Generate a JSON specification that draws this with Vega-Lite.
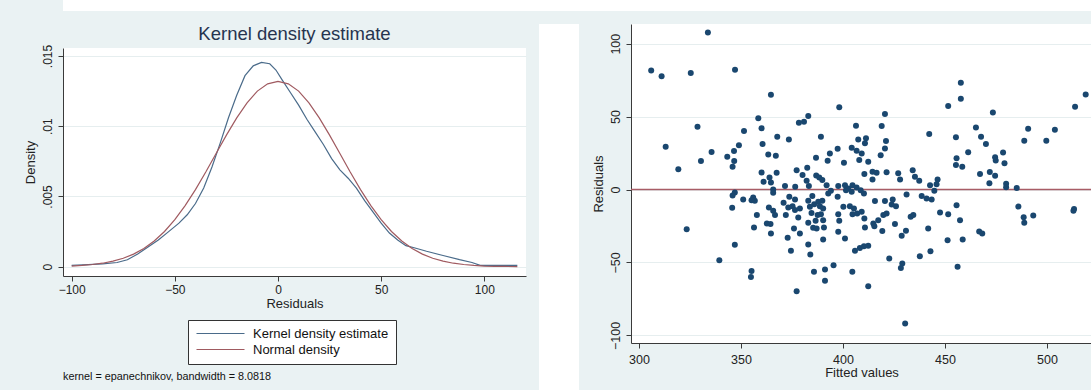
{
  "$schema": "https://vega.github.io/schema/vega-lite/v6.json",
  "background": "#eaf2f3",
  "padding": {"left": 24, "top": 0, "right": 0, "bottom": 0},
  "spacing": 13,
  "config": {
    "font": "Liberation Sans",
    "view": {"stroke": null, "fill": "white"},
    "axis": {
      "labelFont": "Liberation Sans", "titleFont": "Liberation Sans",
      "labelFontSize": 12, "titleFontSize": 13, "titleFontWeight": "normal",
      "labelColor": "#222222", "titleColor": "#222222",
      "domainColor": "#3a3a3a", "tickColor": "#3a3a3a", "tickSize": 5,
      "gridColor": "#e6eeef", "labelFlush": false, "labelOverlap": false
    }
  },
  "vconcat": [
    {
      "width": 1029, "height": 11,
      "view": {"fill": "white", "stroke": null},
      "data": {"values": []},
      "mark": {"type": "point"},
      "encoding": {}
    },
    {
      "spacing": 13,
      "hconcat": [
        {
          "spacing": 0,
          "resolve": {"scale": {"color": "independent"}, "legend": {"color": "independent"}},
          "vconcat": [
            {
              "width": 463, "height": 20,
              "view": {"fill": "#eaf2f3", "stroke": null},
              "data": {"values": [{"label": "Kernel density estimate"}]},
              "mark": {"type": "text", "fontSize": 18.5, "font": "Liberation Sans", "color": "#26344f"},
              "encoding": {"text": {"field": "label", "type": "nominal"}}
            },
            {
              "width": 463, "height": 228,
              "title": {"text": "kernel = epanechnikov, bandwidth = 8.0818", "orient": "bottom", "anchor": "start", "frame": "group", "fontSize": 10.8, "fontWeight": "normal", "color": "#111111", "offset": 6, "font": "Liberation Sans"},
              "data": {"values": [
                {"x": -100, "density": 0.0001, "series": "Kernel density estimate"},
                {"x": -92, "density": 0.00015, "series": "Kernel density estimate"},
                {"x": -85, "density": 0.0002, "series": "Kernel density estimate"},
                {"x": -78, "density": 0.0003, "series": "Kernel density estimate"},
                {"x": -73, "density": 0.0005, "series": "Kernel density estimate"},
                {"x": -68, "density": 0.0009, "series": "Kernel density estimate"},
                {"x": -63, "density": 0.0014, "series": "Kernel density estimate"},
                {"x": -58, "density": 0.0019, "series": "Kernel density estimate"},
                {"x": -53, "density": 0.0025, "series": "Kernel density estimate"},
                {"x": -48, "density": 0.0031, "series": "Kernel density estimate"},
                {"x": -44, "density": 0.0037, "series": "Kernel density estimate"},
                {"x": -40, "density": 0.0045, "series": "Kernel density estimate"},
                {"x": -36, "density": 0.0056, "series": "Kernel density estimate"},
                {"x": -32, "density": 0.0071, "series": "Kernel density estimate"},
                {"x": -28, "density": 0.0088, "series": "Kernel density estimate"},
                {"x": -24, "density": 0.0106, "series": "Kernel density estimate"},
                {"x": -20, "density": 0.0122, "series": "Kernel density estimate"},
                {"x": -16, "density": 0.0136, "series": "Kernel density estimate"},
                {"x": -12, "density": 0.0143, "series": "Kernel density estimate"},
                {"x": -8, "density": 0.01455, "series": "Kernel density estimate"},
                {"x": -4, "density": 0.01445, "series": "Kernel density estimate"},
                {"x": -1, "density": 0.014, "series": "Kernel density estimate"},
                {"x": 2, "density": 0.0133, "series": "Kernel density estimate"},
                {"x": 6, "density": 0.0124, "series": "Kernel density estimate"},
                {"x": 10, "density": 0.0115, "series": "Kernel density estimate"},
                {"x": 14, "density": 0.0105, "series": "Kernel density estimate"},
                {"x": 18, "density": 0.0096, "series": "Kernel density estimate"},
                {"x": 22, "density": 0.0087, "series": "Kernel density estimate"},
                {"x": 26, "density": 0.0077, "series": "Kernel density estimate"},
                {"x": 30, "density": 0.0069, "series": "Kernel density estimate"},
                {"x": 34, "density": 0.0063, "series": "Kernel density estimate"},
                {"x": 38, "density": 0.0056, "series": "Kernel density estimate"},
                {"x": 42, "density": 0.0047, "series": "Kernel density estimate"},
                {"x": 46, "density": 0.0039, "series": "Kernel density estimate"},
                {"x": 50, "density": 0.0031, "series": "Kernel density estimate"},
                {"x": 54, "density": 0.0024, "series": "Kernel density estimate"},
                {"x": 58, "density": 0.0019, "series": "Kernel density estimate"},
                {"x": 62, "density": 0.0015, "series": "Kernel density estimate"},
                {"x": 66, "density": 0.00135, "series": "Kernel density estimate"},
                {"x": 72, "density": 0.0011, "series": "Kernel density estimate"},
                {"x": 80, "density": 0.0008, "series": "Kernel density estimate"},
                {"x": 88, "density": 0.0005, "series": "Kernel density estimate"},
                {"x": 94, "density": 0.0003, "series": "Kernel density estimate"},
                {"x": 98, "density": 0.0001, "series": "Kernel density estimate"},
                {"x": 105, "density": 0.0001, "series": "Kernel density estimate"},
                {"x": 116, "density": 0.0001, "series": "Kernel density estimate"},
                {"x": -100, "density": 0.00005, "series": "Normal density"},
                {"x": -95, "density": 0.00009, "series": "Normal density"},
                {"x": -90, "density": 0.00016, "series": "Normal density"},
                {"x": -85, "density": 0.00025, "series": "Normal density"},
                {"x": -80, "density": 0.0004, "series": "Normal density"},
                {"x": -75, "density": 0.0006, "series": "Normal density"},
                {"x": -70, "density": 0.0009, "series": "Normal density"},
                {"x": -65, "density": 0.0013, "series": "Normal density"},
                {"x": -60, "density": 0.00183, "series": "Normal density"},
                {"x": -55, "density": 0.00251, "series": "Normal density"},
                {"x": -50, "density": 0.00335, "series": "Normal density"},
                {"x": -45, "density": 0.00435, "series": "Normal density"},
                {"x": -40, "density": 0.00549, "series": "Normal density"},
                {"x": -35, "density": 0.00674, "series": "Normal density"},
                {"x": -30, "density": 0.00806, "series": "Normal density"},
                {"x": -25, "density": 0.00937, "series": "Normal density"},
                {"x": -20, "density": 0.0106, "series": "Normal density"},
                {"x": -15, "density": 0.01167, "series": "Normal density"},
                {"x": -10, "density": 0.0125, "series": "Normal density"},
                {"x": -5, "density": 0.01302, "series": "Normal density"},
                {"x": 0, "density": 0.0132, "series": "Normal density"},
                {"x": 5, "density": 0.01302, "series": "Normal density"},
                {"x": 10, "density": 0.0125, "series": "Normal density"},
                {"x": 15, "density": 0.01167, "series": "Normal density"},
                {"x": 20, "density": 0.0106, "series": "Normal density"},
                {"x": 25, "density": 0.00937, "series": "Normal density"},
                {"x": 30, "density": 0.00806, "series": "Normal density"},
                {"x": 35, "density": 0.00674, "series": "Normal density"},
                {"x": 40, "density": 0.00549, "series": "Normal density"},
                {"x": 45, "density": 0.00435, "series": "Normal density"},
                {"x": 50, "density": 0.00335, "series": "Normal density"},
                {"x": 55, "density": 0.00251, "series": "Normal density"},
                {"x": 60, "density": 0.00183, "series": "Normal density"},
                {"x": 65, "density": 0.0013, "series": "Normal density"},
                {"x": 70, "density": 0.0009, "series": "Normal density"},
                {"x": 75, "density": 0.0006, "series": "Normal density"},
                {"x": 80, "density": 0.0004, "series": "Normal density"},
                {"x": 85, "density": 0.00025, "series": "Normal density"},
                {"x": 90, "density": 0.00016, "series": "Normal density"},
                {"x": 95, "density": 0.00009, "series": "Normal density"},
                {"x": 100, "density": 0.00005, "series": "Normal density"},
                {"x": 105, "density": 0.00003, "series": "Normal density"},
                {"x": 110, "density": 0.00002, "series": "Normal density"},
                {"x": 116, "density": 0.00001, "series": "Normal density"}
              ]},
              "mark": {"type": "line", "strokeWidth": 1.2},
              "encoding": {
                "x": {"field": "x", "type": "quantitative",
                      "scale": {"domain": [-104.2, 120.2], "nice": false, "zero": false},
                      "axis": {"title": "Residuals", "values": [-100, -50, 0, 50, 100], "grid": false, "labelPadding": 3, "titlePadding": 2}},
                "y": {"field": "density", "type": "quantitative",
                      "scale": {"domain": [-0.00066, 0.01557], "nice": false, "zero": false},
                      "axis": {"title": "Density", "values": [0, 0.005, 0.01, 0.015],
                               "labelExpr": "datum.value == 0 ? '0' : substring(format(datum.value, '.3~f'), 1)",
                               "labelAngle": -90, "labelAlign": "center", "labelBaseline": "bottom",
                               "labelPadding": 4, "titlePadding": 4, "grid": true}},
                "color": {"field": "series", "type": "nominal",
                          "scale": {"domain": ["Kernel density estimate", "Normal density"], "range": ["#4a6b8a", "#a05a60"]},
                          "legend": {"orient": "none", "legendX": 125, "legendY": 272, "direction": "vertical", "title": null,
                                     "padding": 7, "strokeColor": "#333333", "fillColor": "white",
                                     "labelFontSize": 13, "labelFont": "Liberation Sans", "labelColor": "#111111",
                                     "symbolType": "M-1,0H8.6", "symbolSize": 100, "symbolStrokeWidth": 1.2,
                                     "labelOffset": 45, "rowPadding": 2}}
              }
            }
          ]
        },
        {
          "width": 40, "height": 366,
          "view": {"fill": "white", "stroke": null},
          "data": {"values": []},
          "mark": {"type": "point"},
          "encoding": {}
        },
        {
          "width": 461, "height": 319,
          "data": {"values": [
            {"fitted": 306.0, "resid": 81.7}, {"fitted": 311.1, "resid": 77.6}, {"fitted": 313.1, "resid": 29.3},
            {"fitted": 319.3, "resid": 14.0}, {"fitted": 323.4, "resid": -27.2}, {"fitted": 325.4, "resid": 79.9},
            {"fitted": 333.8, "resid": 107.6}, {"fitted": 347.1, "resid": 82.2}, {"fitted": 364.7, "resid": 65.0},
            {"fitted": 457.8, "resid": 73.2}, {"fitted": 457.8, "resid": 62.2}, {"fitted": 430.5, "resid": -91.8},
            {"fitted": 470.1, "resid": 31.2}, {"fitted": 471.8, "resid": 4.3}, {"fitted": 472.0, "resid": 12.1},
            {"fitted": 473.5, "resid": 52.9}, {"fitted": 474.6, "resid": 9.4}, {"fitted": 474.6, "resid": 22.2},
            {"fitted": 474.9, "resid": 19.9}, {"fitted": 478.5, "resid": 25.4}, {"fitted": 479.2, "resid": 18.1},
            {"fitted": 480.0, "resid": 3.9}, {"fitted": 480.0, "resid": 1.6}, {"fitted": 485.2, "resid": 1.1},
            {"fitted": 486.0, "resid": -11.7}, {"fitted": 488.6, "resid": -19.0}, {"fitted": 488.9, "resid": -22.7},
            {"fitted": 493.3, "resid": -17.8}, {"fitted": 488.9, "resid": 33.4}, {"fitted": 490.8, "resid": 41.6},
            {"fitted": 499.7, "resid": 33.4}, {"fitted": 503.9, "resid": 41.0}, {"fitted": 513.3, "resid": -13.3},
            {"fitted": 513.0, "resid": -14.6}, {"fitted": 513.8, "resid": 56.8}, {"fitted": 519.0, "resid": 65.2},
            {"fitted": 328.7, "resid": 43.1}, {"fitted": 330.4, "resid": 19.5}, {"fitted": 335.6, "resid": 25.7},
            {"fitted": 358.5, "resid": 48.8}, {"fitted": 360.1, "resid": 42.0}, {"fitted": 351.5, "resid": 40.1},
            {"fitted": 349.0, "resid": 30.3}, {"fitted": 346.6, "resid": 26.4}, {"fitted": 343.3, "resid": 22.5},
            {"fitted": 346.7, "resid": 19.5}, {"fitted": 345.9, "resid": 15.6}, {"fitted": 360.6, "resid": 31.2},
            {"fitted": 363.4, "resid": 24.1}, {"fitted": 367.1, "resid": 23.2}, {"fitted": 367.8, "resid": 36.2},
            {"fitted": 373.5, "resid": 34.4}, {"fitted": 378.4, "resid": 45.8}, {"fitted": 380.9, "resid": 46.5},
            {"fitted": 383.0, "resid": 50.4}, {"fitted": 389.2, "resid": 36.2}, {"fitted": 398.2, "resid": 56.4},
            {"fitted": 397.4, "resid": 28.0}, {"fitted": 393.6, "resid": 24.8}, {"fitted": 392.5, "resid": 19.8},
            {"fitted": 386.8, "resid": 21.8}, {"fitted": 360.1, "resid": 11.7}, {"fitted": 361.1, "resid": 5.3},
            {"fitted": 364.0, "resid": 8.3}, {"fitted": 364.7, "resid": 4.9}, {"fitted": 367.5, "resid": 11.5},
            {"fitted": 377.3, "resid": 13.3}, {"fitted": 382.5, "resid": 15.0}, {"fitted": 380.2, "resid": 9.9},
            {"fitted": 382.2, "resid": 6.0}, {"fitted": 383.3, "resid": 2.4}, {"fitted": 386.9, "resid": 9.7},
            {"fitted": 388.4, "resid": 8.3}, {"fitted": 389.9, "resid": 6.5}, {"fitted": 371.6, "resid": 2.4},
            {"fitted": 376.6, "resid": 1.9}, {"fitted": 365.8, "resid": 0.1}, {"fitted": 365.8, "resid": -2.2},
            {"fitted": 347.0, "resid": -2.0}, {"fitted": 345.9, "resid": -4.0}, {"fitted": 351.1, "resid": -6.8},
            {"fitted": 356.0, "resid": -5.4}, {"fitted": 356.8, "resid": -7.7}, {"fitted": 355.2, "resid": -7.3},
            {"fitted": 345.7, "resid": -12.5}, {"fitted": 357.8, "resid": -17.5}, {"fitted": 356.4, "resid": -26.0},
            {"fitted": 347.0, "resid": -37.9}, {"fitted": 339.4, "resid": -48.4}, {"fitted": 355.2, "resid": -55.8},
            {"fitted": 354.9, "resid": -59.9}, {"fitted": 363.7, "resid": -12.3}, {"fitted": 365.8, "resid": -14.6},
            {"fitted": 366.7, "resid": -17.5}, {"fitted": 362.7, "resid": -23.3}, {"fitted": 364.5, "resid": -23.7},
            {"fitted": 364.7, "resid": -30.1}, {"fitted": 373.7, "resid": -5.0}, {"fitted": 370.9, "resid": -9.1},
            {"fitted": 373.2, "resid": -12.3}, {"fitted": 375.3, "resid": -11.4}, {"fitted": 376.5, "resid": -14.1},
            {"fitted": 378.9, "resid": -13.0}, {"fitted": 372.0, "resid": -17.5}, {"fitted": 378.1, "resid": -19.2},
            {"fitted": 376.0, "resid": -26.7}, {"fitted": 378.9, "resid": -30.1}, {"fitted": 372.9, "resid": -33.1},
            {"fitted": 374.5, "resid": -42.0}, {"fitted": 377.3, "resid": -69.7}, {"fitted": 383.0, "resid": -7.7},
            {"fitted": 385.0, "resid": -4.5}, {"fitted": 385.9, "resid": -10.0}, {"fitted": 383.8, "resid": -11.8},
            {"fitted": 384.6, "resid": -16.0}, {"fitted": 387.9, "resid": -8.4}, {"fitted": 388.7, "resid": -11.4},
            {"fitted": 389.9, "resid": -7.7}, {"fitted": 390.3, "resid": -13.0}, {"fitted": 389.2, "resid": -16.9},
            {"fitted": 387.6, "resid": -17.5}, {"fitted": 383.0, "resid": -22.8}, {"fitted": 386.6, "resid": -21.4},
            {"fitted": 385.4, "resid": -26.2}, {"fitted": 387.1, "resid": -26.7}, {"fitted": 390.3, "resid": -21.0},
            {"fitted": 390.7, "resid": -26.0}, {"fitted": 390.3, "resid": -34.3}, {"fitted": 383.0, "resid": -37.7},
            {"fitted": 384.0, "resid": -44.5}, {"fitted": 385.8, "resid": -56.4}, {"fitted": 391.2, "resid": -54.8},
            {"fitted": 391.2, "resid": -62.6}, {"fitted": 395.4, "resid": -51.9}, {"fitted": 392.8, "resid": -2.7},
            {"fitted": 394.1, "resid": -0.8}, {"fitted": 397.4, "resid": -5.0}, {"fitted": 397.7, "resid": 2.4},
            {"fitted": 397.7, "resid": -16.9}, {"fitted": 397.7, "resid": -29.0}, {"fitted": 398.2, "resid": -21.4},
            {"fitted": 392.0, "resid": 3.0}, {"fitted": 376.5, "resid": -6.8},
            {"fitted": 451.6, "resid": 57.3}, {"fitted": 420.6, "resid": 51.8}, {"fitted": 406.4, "resid": 43.8},
            {"fitted": 419.0, "resid": 43.6}, {"fitted": 442.3, "resid": 38.1}, {"fitted": 455.4, "resid": 35.8},
            {"fitted": 465.2, "resid": 42.6}, {"fitted": 467.7, "resid": 36.2}, {"fitted": 407.5, "resid": 34.4},
            {"fitted": 411.3, "resid": 35.1}, {"fitted": 410.8, "resid": 31.7}, {"fitted": 421.1, "resid": 33.3},
            {"fitted": 404.3, "resid": 28.7}, {"fitted": 406.7, "resid": 26.6}, {"fitted": 409.2, "resid": 24.8},
            {"fitted": 420.6, "resid": 28.2}, {"fitted": 418.5, "resid": 23.6}, {"fitted": 400.5, "resid": 18.4},
            {"fitted": 408.0, "resid": 20.2}, {"fitted": 412.4, "resid": 19.1}, {"fitted": 461.4, "resid": 25.5},
            {"fitted": 455.7, "resid": 21.4}, {"fitted": 455.4, "resid": 16.8}, {"fitted": 458.5, "resid": 15.6},
            {"fitted": 467.2, "resid": 10.6}, {"fitted": 410.5, "resid": 10.6}, {"fitted": 414.5, "resid": 12.2},
            {"fitted": 416.5, "resid": 11.5}, {"fitted": 414.5, "resid": 6.9}, {"fitted": 421.4, "resid": 11.9},
            {"fitted": 427.1, "resid": 11.1}, {"fitted": 428.0, "resid": 6.9}, {"fitted": 434.2, "resid": 13.3},
            {"fitted": 435.3, "resid": 8.8}, {"fitted": 437.4, "resid": 6.0}, {"fitted": 446.4, "resid": 6.9},
            {"fitted": 445.9, "resid": 3.7}, {"fitted": 442.7, "resid": 3.0}, {"fitted": 444.8, "resid": -0.8},
            {"fitted": 431.2, "resid": -3.4}, {"fitted": 438.6, "resid": -4.5}, {"fitted": 441.0, "resid": -6.1},
            {"fitted": 443.5, "resid": -6.8}, {"fitted": 415.7, "resid": -7.9}, {"fitted": 420.6, "resid": -7.9},
            {"fitted": 424.4, "resid": -6.8}, {"fitted": 423.9, "resid": -10.2}, {"fitted": 426.0, "resid": -11.4},
            {"fitted": 455.7, "resid": -10.7}, {"fitted": 447.6, "resid": -15.7}, {"fitted": 451.6, "resid": -16.9},
            {"fitted": 457.4, "resid": -21.0}, {"fitted": 441.8, "resid": -26.7}, {"fitted": 451.3, "resid": -34.7},
            {"fitted": 458.7, "resid": -34.3}, {"fitted": 401.0, "resid": 3.0}, {"fitted": 402.6, "resid": 0.8},
            {"fitted": 404.7, "resid": 3.0}, {"fitted": 406.7, "resid": 1.4}, {"fitted": 408.7, "resid": -0.4},
            {"fitted": 410.3, "resid": -2.7}, {"fitted": 404.3, "resid": -1.5}, {"fitted": 401.5, "resid": -0.4},
            {"fitted": 400.2, "resid": -11.8}, {"fitted": 403.4, "resid": -11.4}, {"fitted": 405.4, "resid": -13.0},
            {"fitted": 404.7, "resid": -16.9}, {"fitted": 407.0, "resid": -16.4}, {"fitted": 409.2, "resid": -15.3},
            {"fitted": 401.0, "resid": -33.6}, {"fitted": 410.5, "resid": -19.8}, {"fitted": 410.8, "resid": -26.0},
            {"fitted": 414.9, "resid": -23.3}, {"fitted": 417.3, "resid": -21.0}, {"fitted": 419.8, "resid": -17.5},
            {"fitted": 421.4, "resid": -16.4}, {"fitted": 415.4, "resid": -25.1}, {"fitted": 419.3, "resid": -28.5},
            {"fitted": 425.5, "resid": -23.7}, {"fitted": 433.2, "resid": -18.7}, {"fitted": 434.5, "resid": -17.5},
            {"fitted": 428.8, "resid": -31.7}, {"fitted": 430.9, "resid": -28.3}, {"fitted": 405.9, "resid": -42.0},
            {"fitted": 408.3, "resid": -40.0}, {"fitted": 410.3, "resid": -38.8}, {"fitted": 412.4, "resid": -38.6},
            {"fitted": 404.6, "resid": -56.4}, {"fitted": 412.4, "resid": -66.3}, {"fitted": 422.7, "resid": -47.3},
            {"fitted": 428.4, "resid": -53.7}, {"fitted": 429.1, "resid": -50.7}, {"fitted": 437.7, "resid": -45.7},
            {"fitted": 442.9, "resid": -42.3}, {"fitted": 456.2, "resid": -53.0}, {"fitted": 466.8, "resid": -28.8},
            {"fitted": 468.3, "resid": -30.1}
          ]},
          "encoding": {
            "x": {"field": "fitted", "type": "quantitative",
                  "scale": {"domain": [296.1, 522.1], "nice": false, "zero": false},
                  "axis": {"title": "Fitted values", "values": [300, 350, 400, 450, 500], "grid": false, "labelFontSize": 12.5, "labelPadding": 5, "titlePadding": 1}},
            "y": {"field": "resid", "type": "quantitative",
                  "scale": {"domain": [-105.2, 113.5], "nice": false, "zero": false},
                  "axis": {"title": "Residuals", "values": [-100, -50, 0, 50, 100], "grid": true, "labelFontSize": 12.5,
                           "labelAngle": -90, "labelAlign": "center", "labelBaseline": "bottom", "labelPadding": 4, "titlePadding": 4}}
          },
          "layer": [
            {
              "data": {"values": [{"ref": 0}]},
              "mark": {"type": "rule", "color": "#a85c66", "strokeWidth": 1.6},
              "encoding": {"y": {"field": "ref", "type": "quantitative"}, "x": null}
            },
            {
              "mark": {"type": "circle", "size": 36, "color": "#1a476f", "opacity": 1}
            }
          ]
        }
      ]
    }
  ]
}
